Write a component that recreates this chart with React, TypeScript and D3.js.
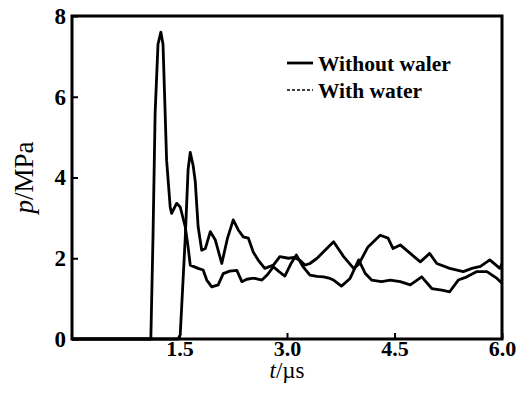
import { useRef, useEffect } from 'react'
import * as d3 from 'd3'

// without water (earlier, taller spike)
const tA = [0, 1.1, 1.13, 1.16, 1.2, 1.24, 1.27, 1.32, 1.37, 1.39, 1.46, 1.51, 1.58, 1.62, 1.65, 1.76, 1.83, 1.88, 1.95, 2.04, 2.11, 2.2, 2.3, 2.37, 2.44, 2.51, 2.55, 2.65, 2.73, 2.81, 2.88, 2.97, 3.05, 3.13, 3.22, 3.32, 3.42, 3.51, 3.6, 3.65, 3.76, 3.88, 4.0, 4.09, 4.18, 4.32, 4.44, 4.58, 4.72, 4.88, 5.02, 5.16, 5.27, 5.39, 5.51, 5.65, 5.79, 5.93, 6.0]
const pA = [0, 0, 2.5, 5.6, 7.3, 7.6, 7.3, 4.43, 3.27, 3.11, 3.36, 3.27, 2.78, 2.28, 1.83, 1.75, 1.71, 1.46, 1.29, 1.34, 1.62, 1.68, 1.7, 1.42, 1.48, 1.5, 1.5, 1.46, 1.6, 1.79, 1.68, 1.56, 1.85, 2.08, 1.8, 1.58, 1.55, 1.54, 1.5, 1.46, 1.31, 1.5, 1.96, 1.63, 1.46, 1.42, 1.46, 1.42, 1.34, 1.54, 1.25, 1.21, 1.17, 1.46, 1.54, 1.67, 1.67, 1.5, 1.38]

// with water (later, smaller spike)
const tB = [0, 1.48, 1.51, 1.58, 1.62, 1.65, 1.69, 1.72, 1.76, 1.81, 1.86, 1.93, 2.0, 2.09, 2.17, 2.25, 2.32, 2.39, 2.46, 2.53, 2.6, 2.69, 2.81, 2.9, 3.02, 3.1, 3.18, 3.25, 3.32, 3.42, 3.51, 3.65, 3.79, 3.93, 4.0, 4.13, 4.3, 4.41, 4.48, 4.58, 4.72, 4.86, 4.99, 5.09, 5.27, 5.46, 5.58, 5.7, 5.83, 5.97, 6.0]
const pB = [0, 0, 0.1, 2.5, 4.2, 4.62, 4.3, 3.9, 2.78, 2.2, 2.24, 2.66, 2.45, 1.87, 2.5, 2.95, 2.7, 2.53, 2.5, 2.15, 1.95, 1.75, 1.83, 2.04, 2.0, 2.02, 1.95, 1.83, 1.87, 2.0, 2.16, 2.41, 2.04, 1.75, 1.85, 2.28, 2.57, 2.5, 2.24, 2.33, 2.12, 1.91, 2.12, 1.87, 1.75, 1.67, 1.75, 1.8, 1.96, 1.75, 1.87]

const xTicks = [1.5, 3.0, 4.5, 6.0]
const yTicks = [0, 2, 4, 6, 8]
const legendLabels = ['Without waler', 'With water']

export default function App() {
  const svgRef = useRef(null)

  useEffect(() => {
    const width = 528
    const height = 401
    const margin = { left: 72, right: 26, top: 16, bottom: 62 }
    const svg = d3.select(svgRef.current)
    svg.selectAll('*').remove()
    svg.attr('width', width).attr('height', height)

    const font = '"Liberation Serif", "Times New Roman", serif'

    const x = d3.scaleLinear().domain([0, 6]).range([margin.left, width - margin.right])
    const y = d3.scaleLinear().domain([0, 8]).range([height - margin.bottom, margin.top])

    // Lines
    const line = d3
      .line<number>()
      .x((d) => x(d[0]))
      .y((d) => y(d[1]))

    const seriesA = tA.map((t, i) => [t, pA[i]])
    const seriesB = tB.map((t, i) => [t, pB[i]])

    ;[seriesA, seriesB].forEach((s) => {
      svg
        .append('path')
        .datum(s)
        .attr('d', line as any)
        .attr('fill', 'none')
        .attr('stroke', '#000')
        .attr('stroke-width', 2.8)
        .attr('stroke-linejoin', 'round')
    })

    // Frame
    svg
      .append('rect')
      .attr('x', x(0))
      .attr('y', y(8))
      .attr('width', x(6) - x(0))
      .attr('height', y(0) - y(8))
      .attr('fill', 'none')
      .attr('stroke', '#000')
      .attr('stroke-width', 3)

    // Y axis
    const yAxis = svg
      .append('g')
      .attr('transform', `translate(${x(0)},0)`)
      .call(d3.axisLeft(y).tickValues(yTicks).tickSizeInner(-6).tickSizeOuter(0).tickPadding(6))
    yAxis.select('.domain').remove()
    yAxis.selectAll('line').attr('stroke-width', 2)
    yAxis
      .selectAll('text')
      .attr('font-family', font)
      .attr('font-size', 23)
      .attr('font-weight', 'bold')
      .attr('fill', '#000')

    // X axis
    const xAxis = svg
      .append('g')
      .attr('transform', `translate(0,${y(0)})`)
      .call(d3.axisBottom(x).tickValues(xTicks).tickFormat(d3.format('.1f')).tickSizeInner(-6).tickSizeOuter(0).tickPadding(1))
    xAxis.select('.domain').remove()
    xAxis.selectAll('line').attr('stroke-width', 2)
    xAxis
      .selectAll('text')
      .attr('font-family', font)
      .attr('font-size', 22)
      .attr('font-weight', 'bold')
      .attr('fill', '#000')

    // Axis titles
    const yt = svg
      .append('text')
      .attr('transform', `translate(33,${(y(0) + y(8)) / 2}) rotate(-90)`)
      .attr('text-anchor', 'middle')
      .attr('font-family', font)
      .attr('font-size', 27)
      .attr('fill', '#000')
    yt.append('tspan').attr('font-style', 'italic').text('p')
    yt.append('tspan').text('/MPa')

    const xt = svg
      .append('text')
      .attr('x', (x(0) + x(6)) / 2)
      .attr('y', 378)
      .attr('text-anchor', 'middle')
      .attr('font-family', font)
      .attr('font-size', 23)
      .attr('fill', '#000')
    xt.append('tspan').attr('font-style', 'italic').text('t')
    xt.append('tspan').text('/µs')

    // Legend
    const lg = svg.append('g').attr('transform', 'translate(287,63)')
    legendLabels.forEach((label, i) => {
      lg.append('line')
        .attr('x1', 0)
        .attr('x2', 26)
        .attr('y1', i * 27)
        .attr('y2', i * 27)
        .attr('stroke', '#000')
        .attr('stroke-width', i === 0 ? 2.8 : 1.6)
        .attr('stroke-dasharray', i === 0 ? null : '3,2')
      lg.append('text')
        .attr('x', 31)
        .attr('y', i * 27 + 8)
        .attr('font-family', font)
        .attr('font-size', 21.5)
        .attr('font-weight', 'bold')
        .attr('fill', '#000')
        .text(label)
    })
  }, [])

  return (
    <div style={{ position: 'fixed', left: 0, top: 0 }}>
      <svg ref={svgRef} style={{ display: 'block', background: '#fff' }} />
    </div>
  )
}
